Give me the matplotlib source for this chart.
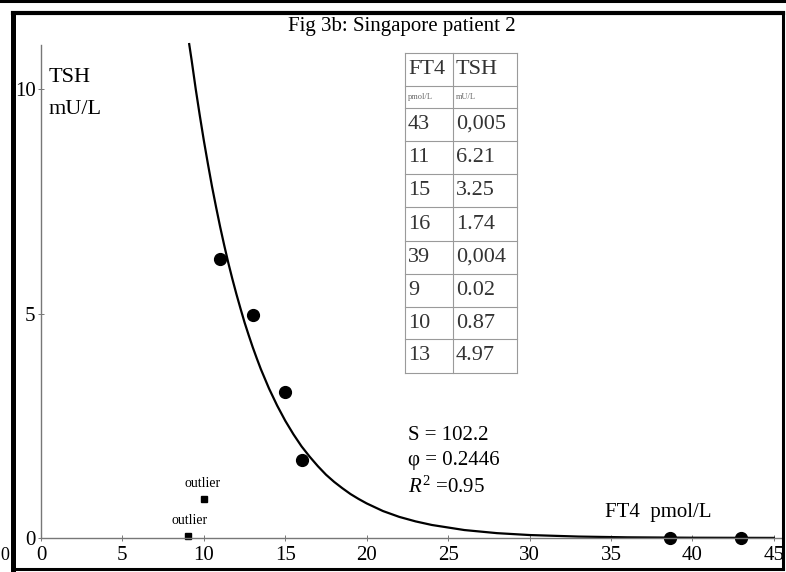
import numpy as np
import matplotlib
matplotlib.use("Agg")
import matplotlib.pyplot as plt
from matplotlib.lines import Line2D

plt.rcParams['font.family'] = ['Liberation Serif', 'DejaVu Serif']
plt.rcParams['mathtext.fontset'] = 'custom'
plt.rcParams['mathtext.it'] = 'Liberation Serif:italic'
plt.rcParams['mathtext.rm'] = 'Liberation Serif'

# data
ft4_pts = [11, 13, 15, 16, 38.6, 43]
tsh_pts = [6.21, 4.97, 3.25, 1.74, 0.004, 0.005]
ft4_out = [9, 10]
tsh_out = [0.04, 0.87]

# fitted curve, points
curve_x = [9.1, 9.25, 9.5, 9.75, 10, 10.25, 10.5, 10.75, 11, 11.25, 11.5, 11.75,
           12, 12.25, 12.5, 12.75, 13, 13.25, 13.5, 14, 14.5, 15, 15.5, 16, 16.5,
           17, 17.5, 18, 18.5, 19, 19.5, 20, 21, 22, 23, 24, 26, 28, 30, 33, 36,
           40, 45]
curve_y = [11.0, 10.64, 10.0, 9.41, 8.85, 8.33, 7.83, 7.37, 6.93, 6.52, 6.13, 5.77,
           5.43, 5.11, 4.80, 4.52, 4.25, 4.00, 3.76, 3.33, 2.95, 2.61, 2.31, 2.04,
           1.81, 1.60, 1.41, 1.25, 1.11, 0.98, 0.87, 0.77, 0.60, 0.47, 0.37, 0.29,
           0.177, 0.108, 0.066, 0.032, 0.015, 0.006, 0.002]

# table on the chart
tab_ft4 = ['43', '11', '15', '16', '39', '9', '10', '13']
tab_tsh = ['0,005', '6.21', '3.25', '1.74', '0,004', '0.02', '0.87', '4.97']

W, H = 786, 572
fig = plt.figure(figsize=(W / 100, H / 100), dpi=100)


def px(x, y):
    return x / W, 1 - y / H


# axes placed in pixels
x0, x1 = 41, 782
y0, y1 = 538, 45
xmax = 45.5
ymax = 10.98
l, b = px(x0, y0)
r, t = px(x1, y1)
ax = fig.add_axes([l, b, r - l, t - b])
ax.set_xlim(0, xmax)
ax.set_ylim(0, ymax)
for s in ['top', 'right']:
    ax.spines[s].set_visible(False)
for s in ['left', 'bottom']:
    ax.spines[s].set_color('#777777')
    ax.spines[s].set_linewidth(1.0)
ax.set_xticks([0, 5, 10, 15, 20, 25, 30, 35, 40, 45])
ax.set_yticks([0, 5, 10])
ax.tick_params(axis='both', direction='inout', length=4, width=0.7, color='#777777',
               labelsize=15, pad=2)
ax.tick_params(axis='x', pad=4)
ax.patch.set_alpha(0)

ax.plot(curve_x, curve_y, color='black', lw=1.6, clip_on=False,
        solid_joinstyle='round')
ax.plot(ft4_pts, tsh_pts, 'o', color='black', ms=8.5, clip_on=False)
ax.plot(ft4_out, tsh_out, 's', color='black', ms=5, clip_on=False)

ax.text(9.15, 0.4, 'outlier', fontsize=10, ha='center', va='center')
ax.text(9.95, 1.22, 'outlier', fontsize=10, ha='center', va='center')

# texts in figure pixels
def ftext(x, y, s, **kw):
    fig.text(*px(x, y), s, **kw)


ftext(402, 27, 'Fig 3b: Singapore patient 2', fontsize=15, ha='center', va='center')
ftext(49, 77, 'TSH', fontsize=16, ha='left', va='center')
ftext(49, 109, 'mU/L', fontsize=16, ha='left', va='center')
ftext(605, 512, 'FT4  pmol/L', fontsize=15, ha='left', va='center')
ftext(408, 436, 'S = 102.2', fontsize=15, ha='left', va='center')
ftext(408, 460, 'φ = 0.2446', fontsize=15, ha='left', va='center')
ftext(408, 487, r'$R^2$ =0.95', fontsize=15, ha='left', va='center')
ftext(5, 555, '0', fontsize=13, ha='center', va='center')

# table
tl, tm, tr = 405, 453, 517
rows = [53, 86, 108, 141, 174, 207, 241, 274, 307, 339, 373]
gray = '#9a9a9a'
for yy in rows:
    fig.add_artist(Line2D([px(tl, yy)[0], px(tr, yy)[0]], [px(tl, yy)[1]] * 2,
                          color=gray, lw=0.8))
for xx in (tl, tm, tr):
    fig.add_artist(Line2D([px(xx, 0)[0]] * 2, [px(xx, rows[0])[1], px(xx, rows[-1])[1]],
                          color=gray, lw=0.8))
ftext(tl + 3, (rows[0] + rows[1]) / 2, 'FT4', fontsize=16, va='center', color='#333333')
ftext(tm + 3, (rows[0] + rows[1]) / 2, 'TSH', fontsize=16, va='center', color='#333333')
ftext(tl + 3, (rows[1] + rows[2]) / 2, 'pmol/L', fontsize=6, va='center', color='#666666')
ftext(tm + 3, (rows[1] + rows[2]) / 2, 'mU/L', fontsize=6, va='center', color='#666666')
for i, (a, c) in enumerate(zip(tab_ft4, tab_tsh)):
    yc = (rows[i + 2] + rows[i + 3]) / 2
    ftext(tl + 3, yc, a, fontsize=16, va='center', color='#333333')
    ftext(tm + 3, yc, c, fontsize=16, va='center', color='#333333')

# frame around the panel
def fline(xa, ya, xb, yb, w):
    pa, pb = px(xa, ya), px(xb, yb)
    fig.add_artist(Line2D([pa[0], pb[0]], [pa[1], pb[1]], color='black', lw=w,
                          solid_capstyle='projecting'))


fline(0, 1, W, 1, 2.2)
fline(12.5, 13, 783, 13, 3.0)
fline(12.5, 13, 12.5, 570, 3.6)
fline(783, 13, 783, 568, 2.2)
fline(12.5, 568.5, 783, 568.5, 2.2)

fig.savefig('out.png', dpi=100)
